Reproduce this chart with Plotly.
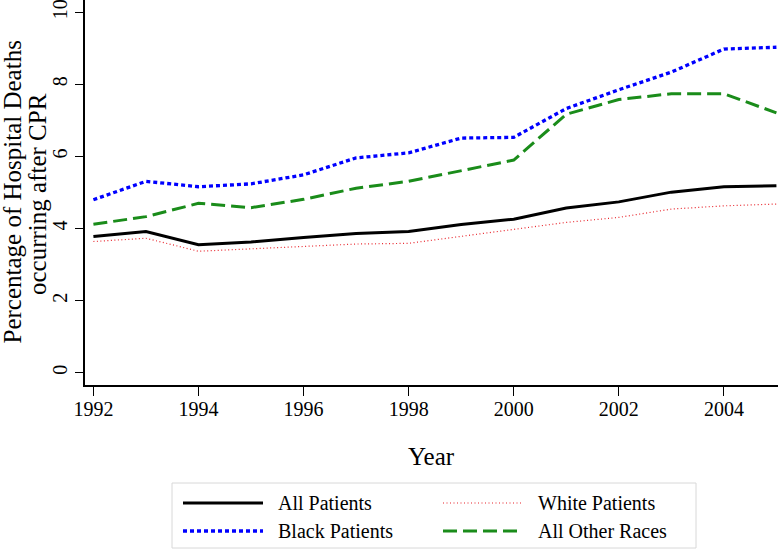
import plotly.graph_objects as go

years = list(range(1992, 2006))
all_patients = [3.78, 3.92, 3.55, 3.63, 3.75, 3.86, 3.92, 4.11, 4.26, 4.57, 4.74, 5.01, 5.16, 5.19]
white_patients = [3.64, 3.73, 3.37, 3.44, 3.51, 3.57, 3.59, 3.78, 3.96, 4.17, 4.31, 4.54, 4.63, 4.68]
black_patients = [4.80, 5.31, 5.16, 5.24, 5.49, 5.96, 6.10, 6.51, 6.53, 7.33, 7.85, 8.34, 8.98, 9.03]
other_races = [4.12, 4.33, 4.70, 4.58, 4.81, 5.12, 5.31, 5.60, 5.90, 7.17, 7.58, 7.74, 7.74, 7.21]

x_ticks = [1992, 1994, 1996, 1998, 2000, 2002, 2004]
y_ticks = [0, 2, 4, 6, 8, 10]

FONT = "Liberation Serif, Times New Roman, serif"
W, H = 778, 551
L, R, T, B = 85, 778, 0, 385

def px(xp):
    return (xp - L) / (R - L)

def py(yp):
    return (B - yp) / (B - T)

series = [
    ("All Patients", all_patients, "black", 3, "solid"),
    ("White Patients", white_patients, "#e8232a", 1.2, "1px,2.5px"),
    ("Black Patients", black_patients, "#0000ff", 3.3, "4px,3px"),
    ("All Other Races", other_races, "#1a8c1a", 3, "14px,6px"),
]

fig = go.Figure()
for name, vals, color, width, dash in series:
    fig.add_trace(go.Scatter(x=years, y=vals, mode="lines", name=name,
                             line=dict(color=color, width=width, dash=dash),
                             cliponaxis=False, showlegend=False))

fig.update_layout(
    width=W, height=H,
    margin=dict(l=L, r=W - R, t=T, b=H - B, pad=0, autoexpand=False),
    paper_bgcolor="white", plot_bgcolor="white",
    font=dict(family=FONT, color="black", size=20),
    xaxis=dict(range=[1991.84, 2005.03], tickvals=x_ticks, ticks="outside",
               ticklen=9, tickwidth=1.2, tickcolor="black", showgrid=False,
               zeroline=False, showline=True, linecolor="black", linewidth=1.5,
               tickfont=dict(size=20, family=FONT), ticklabelstandoff=-4,
               ticklabeloverflow="allow", automargin=False),
    yaxis=dict(range=[-0.341, 10.341], tickvals=y_ticks, ticks="outside",
               ticklen=8, tickwidth=1.2, tickcolor="black", showgrid=False,
               zeroline=False, showline=True, linecolor="black", linewidth=1.5,
               tickangle=-90, tickfont=dict(size=20, family=FONT), ticklabelstandoff=0,
               ticklabeloverflow="allow", automargin=False),
)

# axis titles
fig.add_annotation(x=px(12), y=py(192.5), xref="paper", yref="paper",
                   text="Percentage of Hospital Deaths", textangle=-90,
                   showarrow=False, font=dict(size=25, family=FONT),
                   xanchor="center", yanchor="middle")
fig.add_annotation(x=px(38), y=py(194), xref="paper", yref="paper",
                   text="occurring after CPR", textangle=-90,
                   showarrow=False, font=dict(size=25, family=FONT),
                   xanchor="center", yanchor="middle")
fig.add_annotation(x=px(431.5), y=py(456), xref="paper", yref="paper",
                   text="Year", showarrow=False, font=dict(size=25, family=FONT),
                   xanchor="center", yanchor="middle")

# legend box
fig.add_shape(type="rect", xref="paper", yref="paper",
              x0=px(172), x1=px(696), y0=py(483), y1=py(548),
              line=dict(color="#d8d8d8", width=1), fillcolor="rgba(0,0,0,0)")
legend_pos = [(183, 503), (443, 503), (183, 531), (443, 531)]
for (lx, ly), idx in zip(legend_pos, [0, 1, 2, 3]):
    name, vals, color, width, dash = series[idx]
    fig.add_shape(type="line", xref="paper", yref="paper",
                  x0=px(lx), x1=px(lx + 80), y0=py(ly), y1=py(ly),
                  line=dict(color=color, width=width, dash=dash))
    fig.add_annotation(x=px(lx + 93), y=py(ly), xref="paper", yref="paper",
                       text=name, showarrow=False, xanchor="left", yanchor="middle",
                       font=dict(size=20, family=FONT))

fig.write_html("out.html", config={"displayModeBar": False},
               post_script="document.body.style.margin='0';document.body.style.overflow='hidden';")
